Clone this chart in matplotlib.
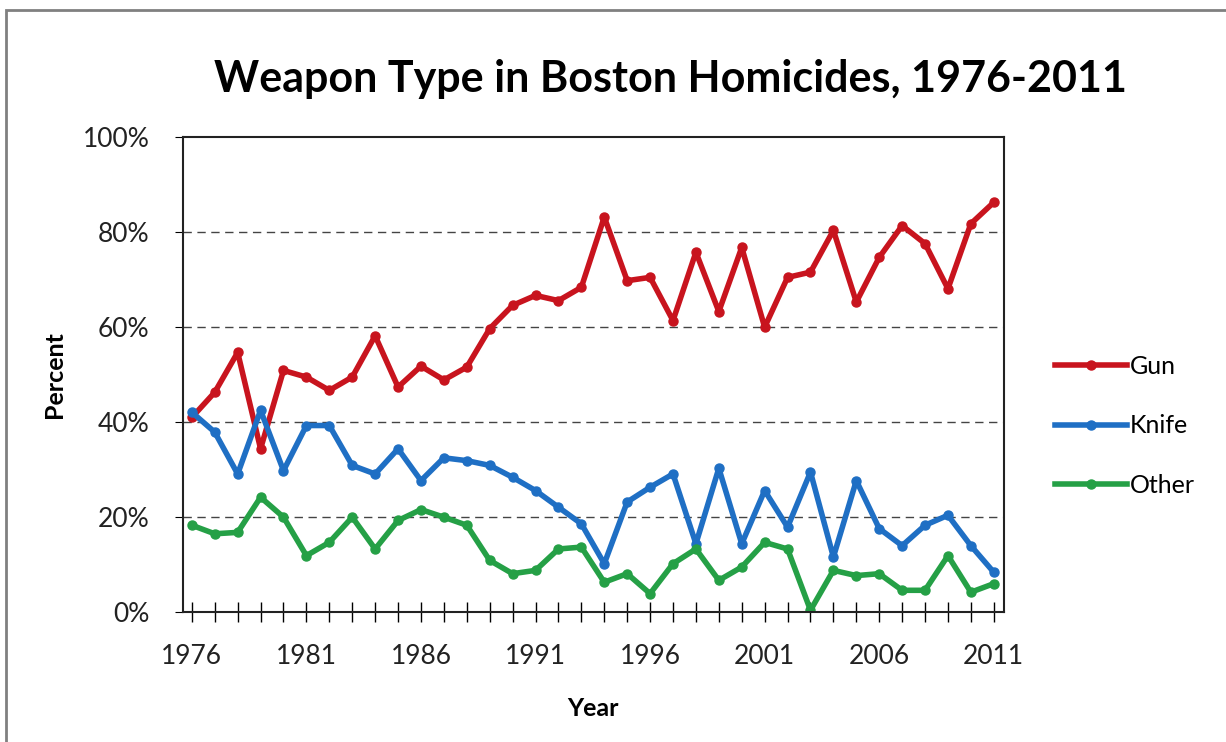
import matplotlib.pyplot as plt
from matplotlib.patches import Rectangle
import numpy as np

years = list(range(1976, 2012))

gun = [41.0, 46.3, 54.7, 34.4, 50.9, 49.5, 46.7, 49.5, 58.2, 47.4, 51.8, 48.9,
       51.6, 59.7, 64.6, 66.7, 65.6, 68.4, 83.2, 69.8, 70.5, 61.4, 75.8, 63.3,
       76.8, 60.0, 70.5, 71.6, 80.4, 65.3, 74.7, 81.4, 77.6, 68.1, 81.8, 86.3]
knife = [42.1, 37.9, 29.1, 42.5, 29.8, 39.3, 39.3, 30.9, 29.1, 34.4, 27.7, 32.5,
         31.9, 30.9, 28.4, 25.6, 22.1, 18.6, 10.2, 23.2, 26.3, 29.1, 14.4, 30.3,
         14.4, 25.6, 17.9, 29.5, 11.6, 27.7, 17.6, 14.0, 18.3, 20.4, 14.0, 8.4]
other = [18.3, 16.5, 16.8, 24.2, 20.0, 11.9, 14.7, 20.0, 13.3, 19.3, 21.6, 20.0,
         18.3, 10.9, 8.1, 8.8, 13.3, 13.7, 6.3, 8.1, 3.9, 10.2, 13.3, 6.7,
         9.5, 14.7, 13.3, 0.4, 8.8, 7.7, 8.1, 4.6, 4.6, 11.9, 4.2, 6.0]

series = ["Gun", "Knife", "Other"]
colors = ["#c8141e", "#1f6fc4", "#25a046"]
yticks = [0, 20, 40, 60, 80, 100]
xlabels = [1976, 1981, 1986, 1991, 1996, 2001, 2006, 2011]

plt.rcParams['font.family'] = ['Lato', 'DejaVu Sans']

fig = plt.figure(figsize=(12.26, 7.42), dpi=100)
# outer chart frame (only top/left visible in the reference)
fig.patches.append(Rectangle((0.005, -0.1), 1.2, 1.086, transform=fig.transFigure,
                             fill=False, edgecolor="#808080", linewidth=2))

ax = fig.add_axes([0.149, 0.175, 0.670, 0.640])

for name, vals, c in zip(series, [gun, knife, other], colors):
    ax.plot(years, vals, color=c, linewidth=4.0, marker="o", markersize=6.5,
            label=name, solid_joinstyle="round")

ax.set_xlim(1975.6, 2011.45)
ax.set_ylim(0, 100)
ax.set_yticks(yticks)
ax.set_yticklabels([f"{v}%" for v in yticks], fontsize=19, color="#222222")
ax.set_xticks(xlabels)
ax.set_xticklabels([str(v) for v in xlabels], fontsize=19, color="#222222")
ax.set_xticks(years, minor=True)
ax.tick_params(axis="x", which="both", direction="inout", length=14, width=1)
ax.tick_params(axis="x", which="major", pad=16)
ax.tick_params(axis="y", direction="out", length=6, pad=18)

for v in yticks[1:-1]:
    ax.axhline(v, color="#444444", linestyle=(0, (6, 4)), linewidth=1, zorder=0)

for s in ax.spines.values():
    s.set_linewidth(1.5)
    s.set_color("#222222")

ax.set_xlabel("Year", fontsize=18, fontweight="bold", labelpad=20)
ax.set_ylabel("Percent", fontsize=18, fontweight="bold", labelpad=12)

fig.text(0.547, 0.893, "Weapon Type in Boston Homicides, 1976-2011",
         ha="center", va="center", fontsize=31, fontweight="bold")

fig.legend(loc="center left", bbox_to_anchor=(0.842, 0.426), frameon=False,
           fontsize=18, handlelength=2.9, handletextpad=0.1, labelspacing=1.45)

fig.savefig("out.png", dpi=100)
